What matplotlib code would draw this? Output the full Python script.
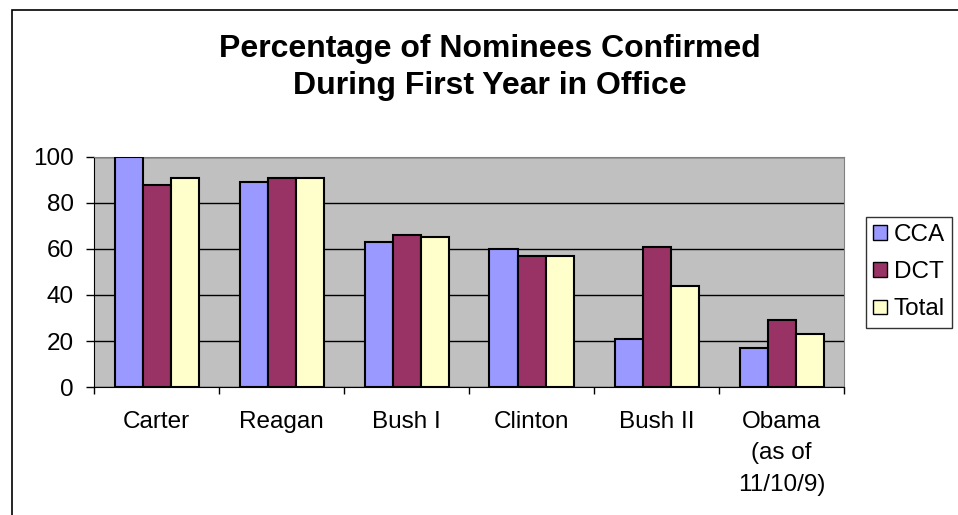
import numpy as np
import matplotlib.pyplot as plt
from matplotlib.patches import Rectangle

plt.rcParams['font.family'] = ['Liberation Sans', 'DejaVu Sans']

# data
presidents = ['Carter', 'Reagan', 'Bush I', 'Clinton', 'Bush II', 'Obama\n(as of\n11/10/9)']
cca = [100, 89, 63, 60, 21, 17]
dct = [88, 91, 66, 57, 61, 29]
total = [91, 91, 65, 57, 44, 23]

series = [('CCA', cca, '#9999FF'), ('DCT', dct, '#993366'), ('Total', total, '#FFFFCC')]

W, H = 958, 515
fig = plt.figure(figsize=(W / 100, H / 100), dpi=100)
# plot area in pixels: left 94, right 844, top 157, bottom 387
ax = fig.add_axes([94 / W, 1 - 387 / H, 750 / W, 230 / H])
ax.set_facecolor('#C0C0C0')

x = np.arange(len(presidents))
bw = 0.224
for i, (name, vals, col) in enumerate(series):
    ax.bar(x + (i - 1) * bw, vals, bw, color=col, edgecolor='black', linewidth=1.5,
           label=name, zorder=3)

ax.set_xlim(-0.5, len(presidents) - 0.5)
ax.set_ylim(0, 100)
ax.set_yticks(range(0, 101, 20))
ax.yaxis.grid(True, color='black', linewidth=1)
ax.set_axisbelow(True)

fs = 17.5
# category ticks sit between groups
ax.set_xticks(np.arange(-0.5, len(presidents), 1))
ax.set_xticklabels([])
ax.set_xticks(x, minor=True)
ax.set_xticklabels(presidents, minor=True, fontsize=fs, linespacing=1.56, va='top')
ax.tick_params(axis='x', which='minor', length=0, pad=17)
ax.tick_params(axis='x', which='major', length=5, width=1, direction='out')
ax.tick_params(axis='y', length=5.8, width=1, labelsize=fs, pad=8.6)

for s in ['top', 'right']:
    ax.spines[s].set_color('#808080')
for s in ['left', 'bottom']:
    ax.spines[s].set_color('black')

fig.text(0.511, 1 - 49 / H, 'Percentage of Nominees Confirmed', ha='center', va='center',
         fontsize=23, fontweight='bold')
fig.text(0.511, 1 - 86 / H, 'During First Year in Office', ha='center', va='center',
         fontsize=23, fontweight='bold')

leg = fig.legend(loc='upper left', bbox_to_anchor=(866 / W, 1 - 217 / H), fontsize=fs,
                 frameon=True, fancybox=False, edgecolor='black', handlelength=0.55,
                 handleheight=0.55, handletextpad=0.3, labelspacing=0.62,
                 borderpad=0.3, borderaxespad=0)
leg.get_frame().set_linewidth(1)
for h in leg.legend_handles:
    h.set_linewidth(1)

# outer chart border, running off the right and bottom edges
fig.patches.append(Rectangle((12 / W, -0.1), 1.1, 1 - 10 / H + 0.1, transform=fig.transFigure,
                             fill=False, edgecolor='black', linewidth=1.2))

fig.savefig('out.png', dpi=100)
